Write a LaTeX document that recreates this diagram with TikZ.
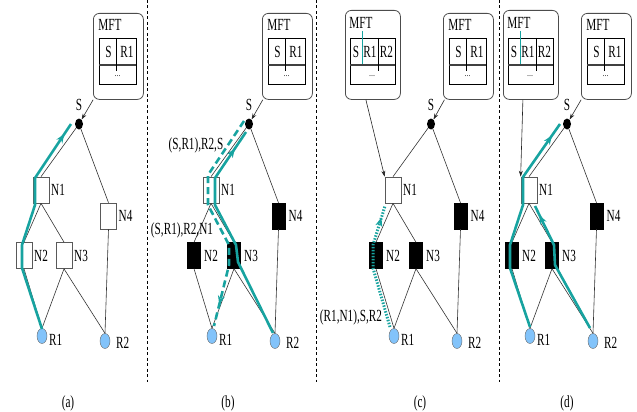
\documentclass[tikz,border=0pt]{standalone}
\usepackage{fontspec}
\setmainfont{Liberation Serif}
\usetikzlibrary{arrows.meta,decorations.markings,shapes.geometric}
\definecolor{tealc}{RGB}{23,163,160}
\definecolor{rblue}{RGB}{130,195,250}
\newcommand\sq[1]{\scalebox{0.66}[1]{#1}}
\tikzset{
 lbl/.style={inner sep=0pt, font=\fontsize{17}{17}\selectfont},
 sdot/.style={ellipse, fill=black, minimum width=8pt, minimum height=11pt, inner sep=0pt},
 wsq/.style={rectangle, draw=black!65, fill=white, line width=0.7pt, minimum width=16pt, minimum height=26pt, inner sep=0pt},
 bsq/.style={rectangle, draw=black, fill=black, minimum width=13pt, minimum height=26pt, inner sep=0pt},
 rcirc/.style={ellipse, draw=black!60, fill=rblue, minimum width=10pt, minimum height=15pt, inner sep=0pt},
 mftbox/.style={rectangle, rounded corners=6pt, draw=black!70, line width=0.8pt, inner sep=0pt},
 edge/.style={draw=black!80, line width=0.6pt},
 marrow/.style={draw=black!85, line width=0.6pt, -{Stealth[length=6pt,width=4pt]}},
 sepline/.style={draw=black, line width=0.7pt, dash pattern=on 3pt off 2.5pt},
 tpath/.style={draw=tealc, line width=2.6pt, line join=round},
 tarrow/.style={postaction={decorate}, decoration={markings, mark=at position #1 with {\arrow{Stealth[length=9pt,width=7pt]}}}},
}
\newcommand\mfttwo[2]{%
 \node[mftbox, minimum width=50pt, minimum height=86pt, anchor=north west] (#1) at (#2,13) {};
 \node[lbl] (#1t) at (#2+17,25) {\sq{MFT}};
 \draw[line width=0.8pt] (#2+6,38) rectangle (#2+43,84);
 \draw[line width=1.1pt, black!75] (#2+6,65) -- (#2+43,65);
 \draw[line width=0.6pt] (#2+23,38) -- (#2+23,71);
 \node[lbl] (#1a) at (#2+15.5,52) {\sq{S}};
 \node[lbl] (#1b) at (#2+34,52) {\sq{R1}};
 \node[inner sep=0pt, font=\fontsize{8}{8}\selectfont] (#1c) at (#2+24.5,76) {...};
}
\newcommand\mftthree[2]{%
 \node[mftbox, minimum width=55pt, minimum height=89pt, anchor=north west] (#1) at (#2,10) {};
 \node[lbl] (#1t) at (#2+16,23) {\sq{MFT}};
 \draw[line width=0.8pt] (#2+5,38) rectangle (#2+50,84);
 \draw[line width=1.1pt, black!75] (#2+5,65) -- (#2+50,65);
 \draw[line width=0.6pt] (#2+33,38) -- (#2+33,71);
 \draw[tealc, line width=0.9pt] (#2+17,31) -- (#2+17,64);
 \node[lbl] (#1a) at (#2+11,52) {\sq{S}};
 \node[lbl] (#1b) at (#2+25,52) {\sq{R1}};
 \node[lbl] (#1d) at (#2+41.5,52) {\sq{R2}};
 \node[inner sep=0pt, font=\fontsize{8}{8}\selectfont] (#1c) at (#2+27,76) {...};
}
\newcommand\netgraph[6]{%
 \node[sdot] (#1S) at (#2,124) {};
 \node[lbl, anchor=south] (#1Sl) at ([yshift=7pt]#1S.north) {\sq{S}};
 \node[#3] (#1N1) at (#2-38,190) {};
 \node[#4] (#1N2) at (#2-55,255.5) {};
 \node[#5] (#1N3) at (#2-15,255.5) {};
 \node[#6] (#1N4) at (#2+29.5,216) {};
 \node[rcirc] (#1R1) at (#2-37,336) {};
 \node[rcirc] (#1R2) at (#2+26,341) {};
 \node[lbl, anchor=west] (#1N1l) at ([xshift=10pt]#1N1.center) {\sq{N1}};
 \node[lbl, anchor=west] (#1N2l) at ([xshift=10pt]#1N2.center) {\sq{N2}};
 \node[lbl, anchor=west] (#1N3l) at ([xshift=10pt]#1N3.center) {\sq{N3}};
 \node[lbl, anchor=west] (#1N4l) at ([xshift=10pt]#1N4.center) {\sq{N4}};
 \node[lbl, anchor=west] (#1R1l) at ([shift={(7pt,-4pt)}]#1R1.center) {\sq{R1}};
 \node[lbl, anchor=west] (#1R2l) at ([shift={(11pt,-2pt)}]#1R2.center) {\sq{R2}};
 \draw[edge] (#1S) -- (#1N1.north);
 \draw[edge] (#1S) -- (#1N4.north);
 \draw[edge] (#1N1.south) -- (#1N2.north);
 \draw[edge] (#1N1.south) -- (#1N3.north);
 \draw[edge] (#1N2.south) -- (#1R1.north);
 \draw[edge] (#1N3.south) -- (#1R1.north);
 \draw[edge] (#1N3.south) -- (#1R2.north);
 \draw[edge] (#1N4.south) -- (#1R2.north);
}
\begin{document}
\begin{tikzpicture}[x=1pt,y=-1pt]
\useasboundingbox (0,0) rectangle (637,412);
% separators
\draw[sepline] (147,0) -- (147,382);
\draw[sepline] (316,0) -- (316,382);
\draw[sepline] (499,0) -- (499,382);

% ---------- (a)
\netgraph{a}{79}{wsq}{wsq}{wsq}{wsq}
\mfttwo{aM}{93}
\draw[marrow] (aM) -- (aS);
\draw[tpath, tarrow=-12pt] (42,329) -- (22,268) -- (22,245) -- (35,205) -- (35,178) -- (71,124);
\node[lbl] (acap) at (68,403) {\sq{(a)}};

% ---------- (b)
\netgraph{b}{249}{wsq}{bsq}{bsq}{bsq}
\mfttwo{bM}{262}
\draw[marrow] (bM) -- (bS);
\draw[tpath, dash pattern=on 7pt off 4pt, tarrow=-22pt] (244,121) -- (208,175) -- (208,205) -- (229,245) -- (229,265) -- (214,326);
\draw[tpath, tarrow=-20pt] (273,333) -- (238,262) -- (236,245) -- (215,205) -- (215,178) -- (246,132);
\node[lbl] (bl1) at (196,145) {\sq{(S,R1),R2,S}};
\node[lbl] (bl2) at (182,230) {\sq{(S,R1),R2,N1}};
\node[lbl] (bcap) at (228,403) {\sq{(b)}};

% ---------- (c)
\netgraph{c}{431}{wsq}{bsq}{bsq}{bsq}
\mftthree{cL}{345}
\mfttwo{cM}{443}
\draw[marrow] (cM) -- (cS);
\draw[marrow] ([xshift=-7pt]cL.south) -- (cN1.north west);
\draw[tpath, line width=3pt, dash pattern=on 1.5pt off 1.5pt, tarrow=-12pt] (390,327) -- (373,268) -- (373,245) -- (385,206);
\node[lbl] (cl1) at (351,317) {\sq{(R1,N1),S,R2}};
\node[lbl] (ccap) at (420,403) {\sq{(c)}};

% ---------- (d)
\netgraph{d}{567}{wsq}{bsq}{bsq}{bsq}
\mftthree{dL}{503}
\mfttwo{dM}{581}
\draw[marrow] (dM) -- (dS);
\draw[marrow] ([xshift=-8pt]dL.south) -- (dN1.north west);
\draw[tpath, tarrow=-14pt] (530,327) -- (510,268) -- (510,245) -- (523,205) -- (523,177) -- (560,124);
\draw[tpath, tarrow=-10pt] (590,328) -- (555,265) -- (554,245) -- (535,206);
\node[lbl] (dcap) at (567,403) {\sq{(d)}};
\end{tikzpicture}
\end{document}
